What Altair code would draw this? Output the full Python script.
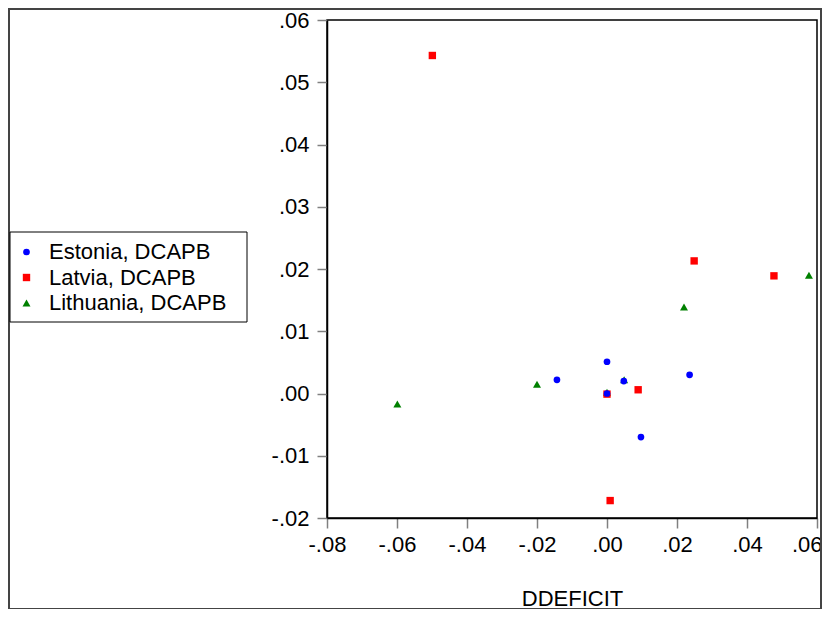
import altair as alt
import pandas as pd

series_names = ["Estonia, DCAPB", "Latvia, DCAPB", "Lithuania, DCAPB"]
series_colors = ["#0000FF", "#FF0000", "#008000"]
series_shapes = ["circle", "square", "triangle-up"]

estonia_x = [-0.0143, 0.0000, 0.0000, 0.0048, 0.0236, 0.0097]
estonia_y = [0.0022, 0.0051, 0.0000, 0.0020, 0.0030, -0.0070]

latvia_x = [-0.0499, 0.0000, 0.0089, 0.0249, 0.0477, 0.0009]
latvia_y = [0.0543, -0.0001, 0.0006, 0.0213, 0.0189, -0.0172]

lithuania_x = [-0.0599, -0.0200, 0.0000, 0.0049, 0.0220, 0.0577]
lithuania_y = [-0.0017, 0.0015, 0.0002, 0.0022, 0.0139, 0.0190]

x_ticks = [-0.08, -0.06, -0.04, -0.02, 0.0, 0.02, 0.04, 0.06]
y_ticks = [-0.02, -0.01, 0.0, 0.01, 0.02, 0.03, 0.04, 0.05, 0.06]

rows = []
for name, xs, ys, z in [
    (series_names[2], lithuania_x, lithuania_y, 0),
    (series_names[1], latvia_x, latvia_y, 1),
    (series_names[0], estonia_x, estonia_y, 2),
]:
    for xv, yv in zip(xs, ys):
        rows.append({"x": xv, "y": yv, "series": name, "z": z})
df = pd.DataFrame(rows)

FONT = "Liberation Sans"
label_expr = "(datum.value < 0 ? '-' : '') + replace(format(abs(datum.value), '.2f'), '0.', '.')"

points = alt.Chart(df).mark_point(filled=True, opacity=1, strokeWidth=0).encode(
    x=alt.X("x:Q", title="DDEFICIT",
            scale=alt.Scale(domain=[-0.08, 0.06], nice=False, zero=False),
            axis=alt.Axis(values=x_ticks, labelExpr=label_expr, grid=False,
                          tickSize=10, labelPadding=6, labelFlush=False, labelOverlap=False,
                          labelAlign={"condition": {"test": "datum.value > 0.05", "value": "right"},
                                      "value": "center"},
                          labelOffset={"condition": {"test": "datum.value > 0.05", "value": 5},
                                       "value": 0},
                          titleY=87, titleBaseline="alphabetic")),
    y=alt.Y("y:Q", title="",
            scale=alt.Scale(domain=[-0.02, 0.06], nice=False, zero=False),
            axis=alt.Axis(values=y_ticks, labelExpr=label_expr, grid=False,
                          tickSize=10, labelPadding=8, labelFlush=False, labelOverlap=False)),
    color=alt.Color("series:N",
                    scale=alt.Scale(domain=series_names, range=series_colors),
                    legend=alt.Legend(title="", orient="none", legendX=-311.5, legendY=221,
                                      symbolSize=40, labelOffset=11.5, rowPadding=3.5,
                                      padding=0, labelFontSize=22, labelFont=FONT,
                                      labelLimit=400,
                                      labelColor="black", symbolStrokeWidth=0)),
    shape=alt.Shape("series:N",
                    scale=alt.Scale(domain=series_names, range=series_shapes)),
    size=alt.Size("series:N",
                  scale=alt.Scale(domain=series_names, range=[45, 64, 70]),
                  legend=None),
    order=alt.Order("z:Q"),
)

legend_box = alt.Chart(alt.Data(values=[{"a": 1}])).mark_rect(
    fill="white", stroke="black", strokeWidth=1
).encode(x=alt.value(-317), x2=alt.value(-80), y=alt.value(212), y2=alt.value(302))

outer_frame = alt.Chart(alt.Data(values=[{"a": 1}])).mark_rect(
    fill="transparent", stroke="#444444", strokeWidth=2
).encode(x=alt.value(-318), x2=alt.value(494), y=alt.value(-11), y2=alt.value(589))

chart = alt.layer(outer_frame, legend_box, points).properties(
    width=490, height=498,
    autosize=alt.AutoSizeParams(type="none"),
    padding={"left": 319, "top": 12, "right": 5, "bottom": 91},
    background="white",
).configure_view(
    stroke="black", strokeWidth=1.5
).configure_axis(
    domainColor="black", domainWidth=1.5, tickColor="#808080", tickWidth=1.5,
    labelFont=FONT, labelFontSize=22, labelColor="black",
    titleFont=FONT, titleFontSize=22, titleFontWeight="normal", titleColor="black",
)

chart.save("out.html", embed_options={"renderer": "svg", "actions": False})
